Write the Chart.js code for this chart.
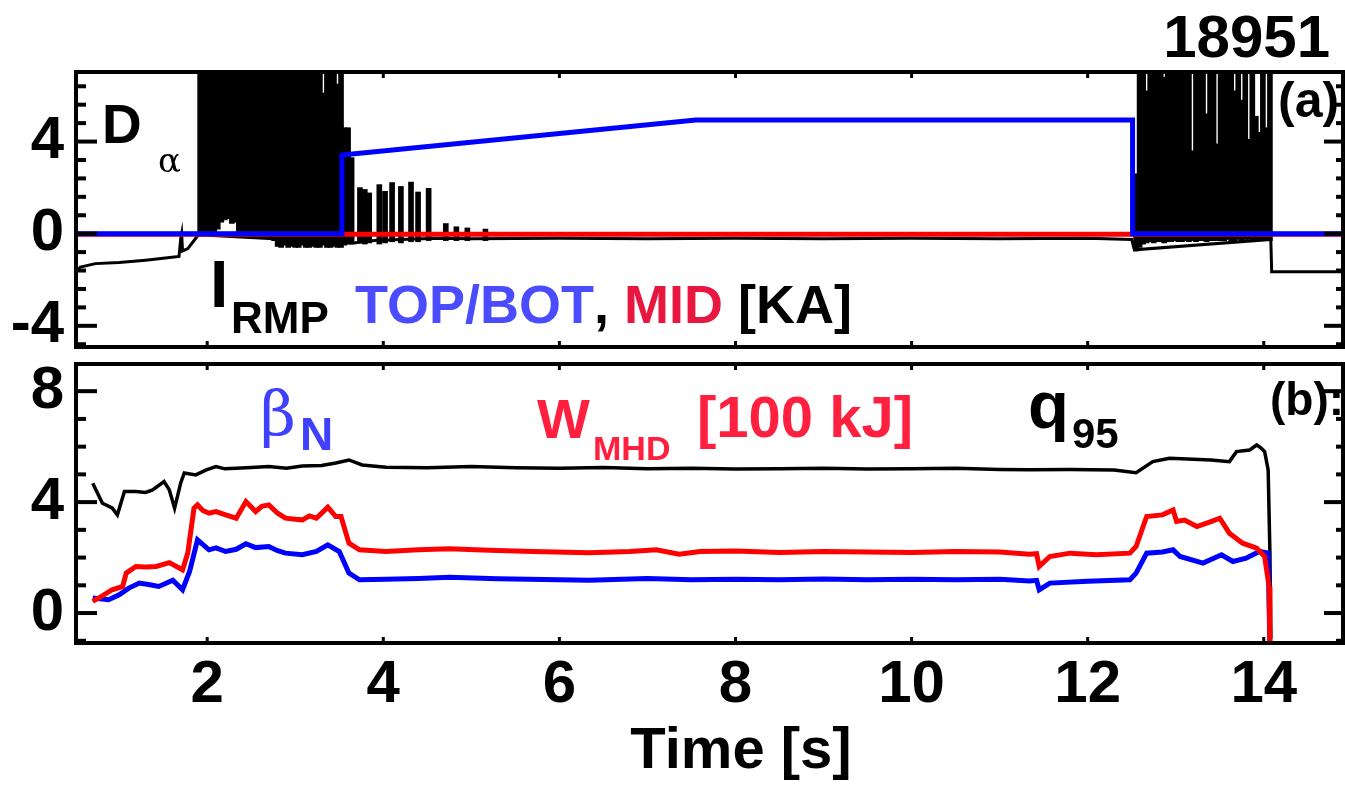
<!DOCTYPE html>
<html>
<head>
<meta charset="utf-8">
<script src="https://cdn.jsdelivr.net/npm/chart.js@4.4.1/dist/chart.umd.min.js"></script>
<style>
  body { margin: 0; background: #fff; width: 1345px; height: 788px; overflow: hidden; position: relative; }
  canvas { position: absolute; left: 0; }
  #panelA { top: 0; }
  #panelB { top: 350px; }
</style>
</head>
<body>
<canvas id="panelA" width="1345" height="360"></canvas>
<canvas id="panelB" width="1345" height="438"></canvas>
<script>

/******************************************************************
DATA - shot 18951
******************************************************************/

var xRange = [0.51, 14.9];
var xTickValues = [2, 4, 6, 8, 10, 12, 14];

// panel (a): D-alpha and RMP coil currents
var aRange = [-4.92, 7.02];
var aTickLabels = [-4, 0, 4];
var aMinorTicks = [-4.8, -3.2, -2.4, -1.6, -0.8, 0.8, 1.6, 2.4, 3.2, 4.8, 5.6, 6.4];

var dalphaT = [0.51, 0.56, 0.73, 1.0, 1.3, 1.55, 1.68, 1.70, 1.71, 1.72, 1.78, 1.84, 1.90,
               3.66, 3.9, 4.2, 4.6, 5.0, 6.0, 7.0, 8.0, 9.0, 10.0, 11.0, 12.0, 12.5, 12.53,
               14.08, 14.09, 14.9];
var dalphaV = [-1.65, -1.45, -1.3, -1.25, -1.15, -1.05, -0.99, -0.2, 0.0, -0.75, -0.65, -0.35, -0.05,
               -0.4, -0.3, -0.25, -0.2, -0.22, -0.2, -0.22, -0.2, -0.22, -0.2, -0.22, -0.2, -0.25, -0.7,
               -0.25, -1.65, -1.65];

// ELM bursts, one spike per entry: time, top, bottom
var burstT = [1.92, 1.96, 2.00, 2.04, 2.08, 2.12, 2.16, 2.20, 2.24, 2.28, 2.32, 2.36, 2.40, 2.44,
              2.48, 2.52, 2.56, 2.60, 2.64, 2.68, 2.72, 2.76, 2.80, 2.84, 2.88, 2.92, 2.96, 3.00,
              3.04, 3.08, 3.12, 3.16, 3.20, 3.24, 3.28, 3.32, 3.36, 3.40, 3.44, 3.48, 3.52,
              3.56, 3.60, 3.64, 3.735, 3.79, 3.84, 3.955, 4.02, 4.10, 4.20, 4.315, 4.395, 4.515,
              4.71, 4.83, 4.955, 5.16,
              12.55, 12.59, 12.63, 12.67, 12.71, 12.75, 12.79, 12.83, 12.87, 12.91, 12.95, 12.99,
              13.03, 13.07, 13.11, 13.15, 13.19, 13.23, 13.27, 13.31, 13.35, 13.39, 13.43, 13.47,
              13.51, 13.55, 13.59, 13.63, 13.67, 13.71, 13.75, 13.79, 13.83, 13.87, 13.91, 13.95,
              13.99, 14.03, 14.07];
var burstHi = [8, 8, 8, 8, 8, 8, 8, 8, 8, 8, 8, 8, 8, 8,
               8, 8, 8, 8, 8, 8, 8, 8, 8, 8, 8, 8, 8, 8,
               8, 8, 8, 8, 8, 8, 8, 6.1, 8, 8, 8, 6.5, 8,
               4.6, 4.6, 3.3, 2.0, 1.92, 1.77, 2.13, 1.84, 2.22, 2.05, 2.24, 1.81, 1.97,
               0.44, 0.3, 0.25, 0.2,
               2.6, 8, 8, 6.2, 8, 8, 8, 8, 6.8, 8, 8, 8,
               8, 8, 8, 8, 3.6, 8, 8, 8, 5.2, 8, 8, 3.9,
               8, 8, 8, 8, 6.2, 8, 5.8, 8, 4.1, 8, 5.1, 4.4,
               8, 4.6, 8];
var burstLo = [0.0, 0.0, -0.05, 0.0, 0.05, 0.2, 0.5, 0.6, 0.65, 0.45, 0.5, 0.0, -0.1, -0.05,
               -0.1, -0.1, -0.15, -0.1, -0.15, -0.2, -0.2, -0.3, -0.55, -0.6, -0.5, -0.6, -0.55, -0.6,
               -0.6, -0.5, -0.6, -0.6, -0.55, -0.6, -0.6, -0.5, -0.6, -0.6, -0.55, -0.6, -0.6,
               -0.5, -0.45, -0.45, -0.4, -0.45, -0.4, -0.45, -0.4, -0.35, -0.4, -0.35, -0.35, -0.3,
               -0.3, -0.3, -0.3, -0.3,
               -0.75, -0.6, -0.45, -0.4, -0.35, -0.4, -0.35, -0.35, -0.4, -0.35, -0.35, -0.3,
               -0.35, -0.35, -0.3, -0.35, -0.3, -0.35, -0.3, -0.3, -0.35, -0.3, -0.3, -0.3,
               -0.3, -0.3, -0.25, -0.3, -0.3, -0.25, -0.3, -0.25, -0.25, -0.3, -0.25, -0.25,
               -0.25, -0.25, -0.3];

var rmpTopT = [0.51, 3.53, 3.53, 7.55, 12.51, 12.51, 14.9];
var rmpTopV = [0, 0, 3.42, 4.94, 4.94, 0, 0];
var rmpMidT = [0.51, 14.9];
var rmpMidV = [-0.03, -0.03];

// panel (b): beta_N, W_MHD, q95
var bRange = [-1.08, 8.98];
var bTickLabels = [0, 4, 8];
var bMinorTicks = [-1, 1, 2, 3, 5, 6, 7];

var q95T = [0.70, 0.81, 0.92, 0.98, 1.06, 1.19, 1.30, 1.38, 1.51, 1.57, 1.63, 1.70, 1.74, 1.87,
            1.99, 2.10, 2.20, 2.33, 2.50, 2.70, 2.90, 3.08, 3.30, 3.46, 3.61, 3.76, 4.03, 4.50,
            5.0, 5.5, 6.0, 6.5, 7.0, 7.5, 8.0, 8.5, 9.0, 9.5, 10.0, 10.5, 11.0, 11.34, 11.8,
            12.3, 12.55, 12.74, 12.93, 13.2, 13.4, 13.61, 13.69, 13.84, 13.92, 13.97, 14.01,
            14.05, 14.07, 14.08];
var q95V = [4.68, 3.96, 3.79, 3.54, 4.38, 4.38, 4.35, 4.44, 4.74, 4.44, 3.78, 4.7, 5.05, 4.98,
            5.16, 5.28, 5.2, 5.22, 5.25, 5.28, 5.22, 5.3, 5.32, 5.41, 5.52, 5.34, 5.26, 5.24,
            5.28, 5.24, 5.22, 5.25, 5.2, 5.22, 5.19, 5.2, 5.22, 5.19, 5.2, 5.22, 5.18, 5.17, 5.18,
            5.16, 5.06, 5.46, 5.58, 5.55, 5.52, 5.46, 5.82, 5.88, 6.06, 5.95, 5.82,
            5.16, 2.17, -0.9];

var wmhdT = [0.70, 0.80, 0.92, 1.04, 1.08, 1.19, 1.30, 1.42, 1.57, 1.72, 1.78, 1.85, 1.89, 1.95,
             2.02, 2.10, 2.21, 2.33, 2.44, 2.55, 2.62, 2.70, 2.80, 2.89, 3.00, 3.08, 3.16, 3.24,
             3.37, 3.46, 3.52, 3.61, 3.73, 4.03, 4.40, 4.75, 5.20, 5.70, 6.34, 6.80, 7.10, 7.36,
             7.60, 8.0, 8.5, 9.0, 9.5, 10.0, 10.5, 11.0, 11.34, 11.42, 11.45, 11.57, 11.80, 12.10,
             12.48, 12.55, 12.67, 12.85, 12.97, 13.01, 13.10, 13.24, 13.40, 13.50, 13.61, 13.76,
             13.92, 14.01, 14.06, 14.07];
var wmhdV = [0.42, 0.6, 0.84, 0.96, 1.44, 1.68, 1.66, 1.68, 1.82, 1.56, 2.17, 3.78, 3.90, 3.7,
             3.60, 3.66, 3.54, 3.42, 4.02, 3.66, 3.85, 3.90, 3.6, 3.42, 3.38, 3.36, 3.5, 3.42,
             3.82, 3.48, 3.48, 2.52, 2.28, 2.22, 2.28, 2.32, 2.26, 2.22, 2.17, 2.22, 2.28, 2.12,
             2.22, 2.24, 2.18, 2.22, 2.2, 2.18, 2.22, 2.2, 2.12, 2.14, 1.68, 2.04, 2.16, 2.10,
             2.16, 2.40, 3.48, 3.54, 3.72, 3.30, 3.35, 3.12, 3.3, 3.42, 2.88, 2.52,
             2.34, 2.04, 0.96, -1.2];

var betaT = [0.70, 0.88, 1.00, 1.11, 1.23, 1.35, 1.45, 1.61, 1.72, 1.80, 1.89, 2.02, 2.10, 2.21,
             2.33, 2.44, 2.55, 2.70, 2.80, 2.89, 3.08, 3.24, 3.37, 3.50, 3.61, 3.73, 4.03, 4.40,
             4.75, 5.30, 6.34, 7.0, 7.5, 8.0, 8.5, 9.0, 9.5, 10.0, 10.5, 11.0, 11.34, 11.42, 11.45,
             11.57, 12.0, 12.48, 12.55, 12.67, 12.85, 12.97, 13.05, 13.31, 13.52, 13.65, 13.80,
             13.95, 14.05, 14.07];
var betaV = [0.54, 0.48, 0.66, 0.90, 1.08, 1.02, 0.96, 1.18, 0.84, 1.50, 2.64, 2.28, 2.35, 2.22,
             2.3, 2.50, 2.36, 2.40, 2.25, 2.16, 2.10, 2.22, 2.46, 2.22, 1.44, 1.20, 1.22, 1.25,
             1.29, 1.24, 1.18, 1.25, 1.2, 1.22, 1.2, 1.23, 1.2, 1.22, 1.2, 1.22, 1.16, 1.18, 0.84,
             1.08, 1.15, 1.20, 1.44, 2.16, 2.2, 2.28, 2.04, 1.80, 2.10, 1.86, 1.98,
             2.22, 2.16, -1.2];


/******************************************************************
HELPERS
******************************************************************/

Chart.defaults.font.family = "'Liberation Sans', Arial, sans-serif";
Chart.defaults.font.weight = 'bold';
Chart.defaults.color = '#000';

function points(ts, vs) {
  return ts.map((t, i) => ({ x: t, y: vs[i] }));
}

function lineSet(ts, vs, color, width, order) {
  return {
    type: 'line',
    data: points(ts, vs),
    borderColor: color,
    borderWidth: width,
    pointRadius: 0,
    tension: 0,
    fill: false,
    order: order
  };
}

function tick(ctx, x1, y1, x2, y2) {
  ctx.beginPath();
  ctx.moveTo(x1, y1);
  ctx.lineTo(x2, y2);
  ctx.stroke();
}

// frame box + inward tick marks (IDL style)
var frameTicks = {
  id: 'frameTicks',
  afterDatasetsDraw(chart, args, opts) {
    var ctx = chart.ctx, a = chart.chartArea;
    var xs = chart.scales.x, ys = chart.scales.y;
    ctx.save();
    ctx.strokeStyle = '#000';
    ctx.lineWidth = 4;
    opts.minor.forEach((v) => {
      var py = ys.getPixelForValue(v);
      tick(ctx, a.left, py, a.left + 10, py);
      tick(ctx, a.right, py, a.right - 7, py);
    });
    opts.major.forEach((v) => {
      var py = ys.getPixelForValue(v);
      tick(ctx, a.left, py, a.left + 21, py);
      tick(ctx, a.right, py, a.right - 19, py);
    });
    ctx.lineWidth = 3;
    xTickValues.forEach((v) => {
      var px = xs.getPixelForValue(v);
      tick(ctx, px, a.top, px, a.top + 6);
      tick(ctx, px, a.bottom, px, a.bottom - 6);
    });
    ctx.lineWidth = 4;
    ctx.strokeRect(a.left, a.top, a.right - a.left, a.bottom - a.top);
    ctx.restore();
  }
};

// free text labels, each a row of coloured runs
var panelText = {
  id: 'panelText',
  afterDraw(chart, args, opts) {
    var ctx = chart.ctx;
    ctx.save();
    ctx.textBaseline = 'alphabetic';
    opts.labels.forEach((lab) => {
      ctx.font = lab.font;
      ctx.textAlign = 'left';
      var x = lab.x;
      if (lab.align === 'right' || lab.align === 'center') {
        var w = lab.runs.reduce((s, r) => s + ctx.measureText(r[0]).width, 0);
        x = lab.align === 'right' ? x - w : x - w / 2;
      }
      lab.runs.forEach((r) => {
        ctx.fillStyle = r[1];
        ctx.fillText(r[0], x, lab.y);
        x += ctx.measureText(r[0]).width;
      });
    });
    ctx.restore();
  }
};

// big tick labels must not push the plot area around
function noOverflow(s) {
  s.paddingTop = 0;
  s.paddingBottom = 0;
  s.paddingLeft = 0;
  s.paddingRight = 0;
}

function yAxis(range, labels) {
  return {
    type: 'linear',
    min: range[0],
    max: range[1],
    grid: { display: false, drawTicks: false },
    border: { display: false },
    ticks: { font: { size: 60 }, padding: 12, autoSkip: false },
    afterBuildTicks: (s) => { s.ticks = labels.map((v) => ({ value: v })); },
    afterFit: (s) => { s.width = 76; noOverflow(s); }
  };
}


/******************************************************************
PANEL (a)
******************************************************************/

var burstBars = {
  type: 'bar',
  data: burstT.map((t, i) => ({ x: t, y: [burstLo[i], burstHi[i]] })),
  backgroundColor: '#000',
  borderWidth: 0,
  barThickness: 5,
  grouped: false,
  order: 4
};

new Chart(document.getElementById('panelA'), {
  type: 'line',
  data: {
    datasets: [
      lineSet(rmpTopT, rmpTopV, '#0000ff', 5, 0),
      lineSet(rmpMidT, rmpMidV, '#ff0000', 5, 1),
      lineSet(dalphaT, dalphaV, '#000', 3, 2),
      burstBars
    ]
  },
  options: {
    responsive: false,
    animation: false,
    layout: { padding: { top: 72, bottom: 13, left: 0, right: 2 } },
    scales: {
      x: { type: 'linear', display: false, min: xRange[0], max: xRange[1], offset: false },
      y: yAxis(aRange, aTickLabels)
    },
    plugins: {
      legend: { display: false },
      tooltip: { enabled: false },
      frameTicks: { minor: aMinorTicks, major: aTickLabels },
      panelText: {
        labels: [
          { x: 1330, y: 57, font: 'bold 60px Liberation Sans', align: 'right', runs: [['18951', '#000']] },
          { x: 1278, y: 117, font: 'bold 50px Liberation Sans', runs: [['(a)', '#000']] },
          { x: 102, y: 143, font: 'bold 55px Liberation Sans', runs: [['D', '#000']] },
          { x: 158, y: 172, font: '34px DejaVu Serif', runs: [['\u03b1', '#000']] },
          { x: 210, y: 307, font: 'bold 66px Liberation Sans', runs: [['I', '#000']] },
          { x: 231, y: 333, font: 'bold 44px Liberation Sans', runs: [['RMP', '#000']] },
          { x: 355, y: 323, font: 'bold 54px Liberation Sans',
            runs: [['TOP/BOT', '#4b4bff'], [', ', '#000'], ['MID', '#e8173f'], [' [KA]', '#000']] }
        ]
      }
    }
  },
  plugins: [frameTicks, panelText]
});


/******************************************************************
PANEL (b)
******************************************************************/

new Chart(document.getElementById('panelB'), {
  type: 'line',
  data: {
    datasets: [
      lineSet(wmhdT, wmhdV, '#ff0000', 5, 0),
      lineSet(betaT, betaV, '#0000ff', 5, 1),
      lineSet(q95T, q95V, '#000', 3.5, 2)
    ]
  },
  options: {
    responsive: false,
    animation: false,
    layout: { padding: { top: 14, bottom: 0, left: 0, right: 2 } },
    scales: {
      x: {
        type: 'linear',
        min: xRange[0],
        max: xRange[1],
        offset: false,
        grid: { display: false, drawTicks: false },
        border: { display: false },
        ticks: { font: { size: 60 }, padding: 6, maxRotation: 0, autoSkip: false },
        afterBuildTicks: (s) => { s.ticks = xTickValues.map((v) => ({ value: v })); },
        afterFit: (s) => { s.height = 145; noOverflow(s); }
      },
      y: yAxis(bRange, bTickLabels)
    },
    plugins: {
      legend: { display: false },
      tooltip: { enabled: false },
      frameTicks: { minor: bMinorTicks, major: bTickLabels },
      panelText: {
        labels: [
          { x: 260, y: 85, font: '62px DejaVu Serif', runs: [['\u03b2', '#4040ff']] },
          { x: 300, y: 100, font: 'bold 46px Liberation Sans', runs: [['N', '#4040ff']] },
          { x: 537, y: 88, font: 'bold 56px Liberation Sans', runs: [['W', '#ff1f3f']] },
          { x: 593, y: 110, font: 'bold 34px Liberation Sans', runs: [['MHD', '#ff1f3f']] },
          { x: 697, y: 87, font: 'bold 58px Liberation Sans', runs: [['[100 kJ]', '#ff1f3f']] },
          { x: 1028, y: 78, font: 'bold 67px Liberation Sans', runs: [['q', '#000']] },
          { x: 1072, y: 98, font: 'bold 42px Liberation Sans', runs: [['95', '#000']] },
          { x: 1270, y: 65, font: 'bold 46px Liberation Sans', runs: [['(b):', '#000']] },
          { x: 741, y: 418, font: 'bold 58px Liberation Sans', align: 'center', runs: [['Time [s]', '#000']] }
        ]
      }
    }
  },
  plugins: [frameTicks, panelText]
});

</script>
</body>
</html>
